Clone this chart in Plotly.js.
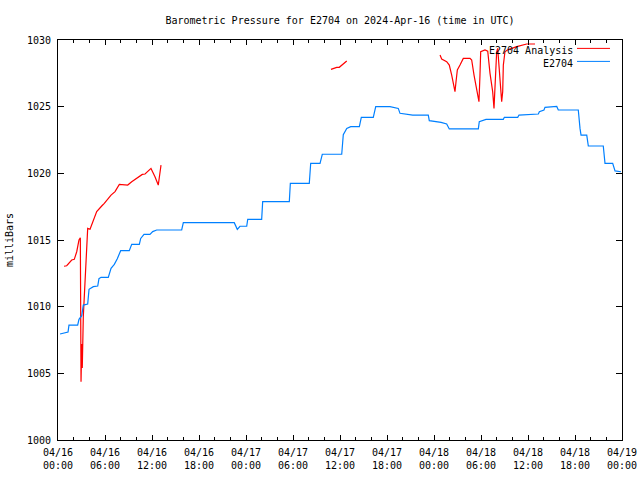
<!DOCTYPE html>
<html>
<head>
<meta charset="utf-8">
<script src="https://cdn.plot.ly/plotly-3.0.1.min.js"></script>
<style>html,body{margin:0;padding:0;background:#fff;}#chart{width:640px;height:480px;}</style>
</head>
<body>
<div id="chart"></div>
<script>
// Hours since 2024-04-16 00:00 UTC
const stationHours = [0.26,1.11,1.28,1.40,2.51,2.68,3.03,3.23,3.79,3.96,4.51,5.07,5.23,5.49,6.42,6.77,7.19,7.57,8.0,9.1,9.41,10.38,10.56,10.98,11.74,12.09,12.6,15.79,16.0,22.5,22.89,23.23,24.09,24.22,26.0,26.13,29.53,29.66,32.08,32.26,33.45,33.74,36.22,36.42,36.64,36.86,37.37,38.47,38.72,40.25,40.56,42.38,43.44,43.66,45.28,47.27,47.40,48.9,49.62,49.95,53.66,53.78,54.64,56.85,56.98,58.69,58.85,61.32,61.45,62.04,62.17,63.67,63.87,66.42,66.64,66.77,67.5,67.7,69.61,69.83,70.81,71.11,71.87];
const stationPressure = [1007.95,1008.07,1008.1,1008.62,1008.62,1009.05,1009.32,1010.12,1010.2,1011.3,1011.5,1011.55,1012.1,1012.2,1012.2,1012.87,1013.17,1013.6,1014.2,1014.2,1014.67,1014.67,1015.12,1015.42,1015.42,1015.63,1015.75,1015.75,1016.3,1016.3,1015.8,1016.03,1016.03,1016.55,1016.55,1017.88,1017.88,1019.25,1019.25,1020.75,1020.75,1021.43,1021.43,1022.9,1023.1,1023.37,1023.5,1023.5,1024.2,1024.2,1025.0,1025.0,1024.87,1024.5,1024.37,1024.37,1023.95,1023.82,1023.7,1023.33,1023.33,1023.88,1024.05,1024.05,1024.2,1024.2,1024.37,1024.45,1024.62,1024.75,1024.95,1025.02,1024.75,1024.75,1023.37,1022.87,1022.87,1022.05,1022.05,1020.75,1020.75,1020.18,1020.12];

const analysisHours = [0.77,1.11,1.75,2.08,2.39,2.68,2.85,2.9,2.94,3.03,3.1,3.23,3.36,3.54,3.66,3.79,4.09,4.3,4.63,4.94,5.58,5.91,6.77,7.28,7.83,8.34,8.9,9.41,10.05,10.76,11.11,11.87,12.38,12.8,12.89,13.02,13.15,
  24.0,
  34.85,35.58,35.91,36.42,36.86,
  42.0,
  48.77,48.98,49.62,49.95,50.26,50.47,50.68,50.81,50.98,51.32,51.74,52.6,52.81,53.11,53.45,53.74,53.87,53.96,54.51,54.86,55.15,55.49,55.66,55.79,56.0,56.13,56.3,56.43,56.64,56.77,56.85,57.06,57.36,58.56,59.83,60.9];
const analysisPressure = [1013.03,1013.07,1013.5,1013.55,1014.12,1015.0,1015.17,1009.87,1004.37,1007.2,1005.4,1009.25,1011.0,1013.0,1015.0,1015.87,1015.8,1016.13,1016.63,1017.13,1017.55,1017.75,1018.37,1018.63,1019.17,1019.17,1019.12,1019.37,1019.62,1019.92,1019.95,1020.37,1019.75,1019.12,1019.5,1020.3,1020.62,
  null,
  1027.8,1027.95,1027.95,1028.25,1028.43,
  null,
  1028.87,1028.57,1028.37,1028.12,1027.37,1026.75,1026.13,1026.87,1027.75,1028.12,1028.62,1028.62,1028.5,1027.37,1026.37,1025.37,1027.37,1029.12,1029.25,1029.17,1027.5,1026.13,1024.87,1026.62,1029.12,1029.37,1028.12,1027.12,1025.37,1026.13,1028.12,1029.12,1029.25,1029.5,1029.7,1029.7];

const tickHours = [0,6,12,18,24,30,36,42,48,54,60,66,72];
const tickLabels = ['04/16<br>00:00','04/16<br>06:00','04/16<br>12:00','04/16<br>18:00','04/17<br>00:00','04/17<br>06:00','04/17<br>12:00','04/17<br>18:00','04/18<br>00:00','04/18<br>06:00','04/18<br>12:00','04/18<br>18:00','04/19<br>00:00'];

const seriesNames = ['E2704 Analysis','E2704'];
const seriesColors = ['#ff0000','#0080ff'];

const FONT = {family:'DejaVu Sans Mono, monospace', size:10, color:'#000'};

const traces = [
  {x: analysisHours, y: analysisPressure, type:'scatter', mode:'lines', name: seriesNames[0], connectgaps:false,
   line:{color: seriesColors[0], width:1.2}, showlegend:false},
  {x: stationHours, y: stationPressure, type:'scatter', mode:'lines', name: seriesNames[1],
   line:{color: seriesColors[1], width:1.2}, showlegend:false}
];

// legend drawn gnuplot-style: text right-aligned, sample line to its right
const legendY = [0.975, 0.9425];
const annotations = seriesNames.map((n,i)=>({
  xref:'paper', yref:'paper', x:0.9167, y:legendY[i], xanchor:'right', yanchor:'middle',
  text:n, showarrow:false, font:FONT
}));
const shapes = seriesNames.map((n,i)=>({
  type:'line', xref:'paper', yref:'paper', x0:0.9202, x1:0.9787, y0:legendY[i]+0.004, y1:legendY[i]+0.004,
  line:{color:seriesColors[i], width:1}
}));

const layout = {
  width:640, height:480,
  margin:{l:58, r:18, t:40, b:40},
  paper_bgcolor:'#fff', plot_bgcolor:'#fff',
  font: FONT,
  title:{text:'Barometric Pressure for E2704 on 2024-Apr-16 (time in UTC)', font:FONT,
         x:0.5, xref:'paper', xanchor:'center', y:0.958, yref:'container', yanchor:'middle'},
  xaxis:{range:[0,72], tickmode:'array', tickvals:tickHours, ticktext:tickLabels,
         showgrid:false, zeroline:false, showline:true, linecolor:'#000', linewidth:1, mirror:'ticks',
         ticks:'inside', ticklen:5, tickcolor:'#000', tickwidth:1, tickfont:FONT, ticklabelstandoff:3,
         minor:{tickmode:'linear', tick0:0, dtick:2, ticks:'inside', ticklen:3, tickcolor:'#000', tickwidth:1, showgrid:false}},
  yaxis:{range:[1000,1030], dtick:5, tick0:1000, showgrid:false, zeroline:false, showline:true,
         linecolor:'#000', linewidth:1, mirror:'ticks', ticks:'inside', ticklen:6, tickcolor:'#000', tickwidth:1,
         tickfont:FONT, ticklabelstandoff:4,
         title:{text:'milliBars', font:FONT, standoff:11}},
  annotations: annotations,
  shapes: shapes,
  showlegend:false
};

Plotly.newPlot('chart', traces, layout, {displayModeBar:false, staticPlot:true});
</script>
</body>
</html>
